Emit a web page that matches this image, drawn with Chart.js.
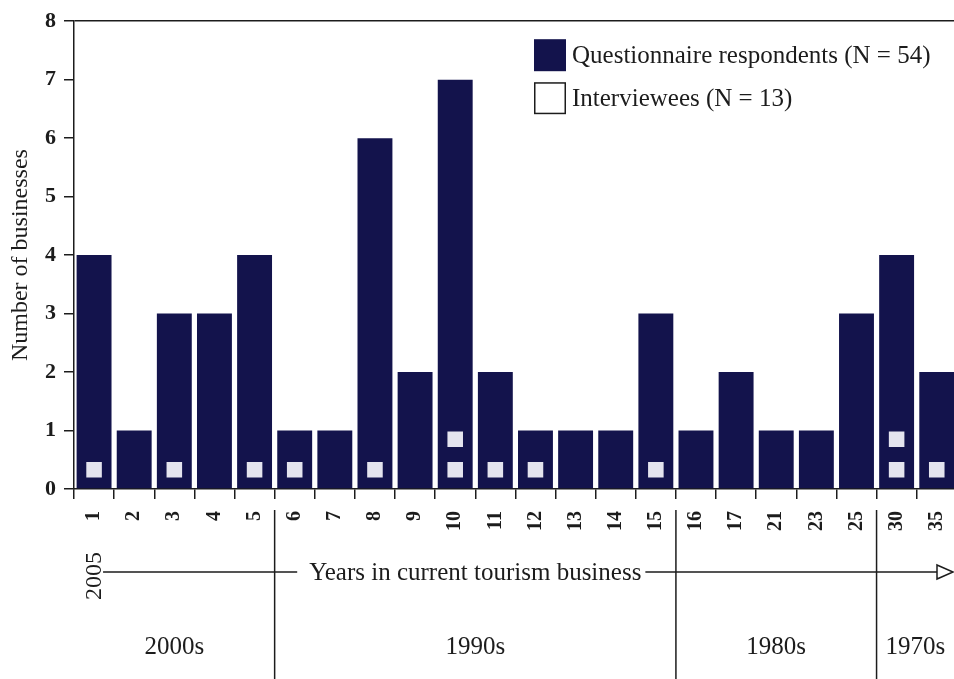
<!DOCTYPE html>
<html>
<head>
<meta charset="utf-8">
<title>Years in current tourism business</title>
<script src="https://cdn.jsdelivr.net/npm/chart.js@4.4.0/dist/chart.umd.min.js"></script>
<style>
  html, body { margin: 0; padding: 0; background: #fff; overflow: hidden; }
  #wrap { position: relative; width: 954px; height: 679px; overflow: hidden; }
</style>
</head>
<body>
<!-- the plot runs a little past the right edge of the page, as in the original scan -->
<div id="wrap"><canvas id="chart" width="973" height="679"></canvas></div>
<script>
// --- Data ---
const years = ['1','2','3','4','5','6','7','8','9','10','11','12','13','14','15','16','17','21','23','25','30','35'];
const respondents = [4,1,3,3,4,1,1,6,2,7,2,1,1,1,3,1,2,1,1,3,4,2];
const interviewees = [1,0,1,0,1,1,0,1,0,2,1,1,0,0,1,0,0,0,0,0,2,1];
const yTicks = [0,1,2,3,4,5,6,7,8];
const decades = ['2000s','1990s','1980s','1970s'];
const decadeLastYear = ['5','15','25','35'];
const startYear = '2005';
const xTitle = 'Years in current tourism business';
const seriesLabels = ['Questionnaire respondents (N = 54)', 'Interviewees (N = 13)'];

// --- Style ---
const SERIF = '"Liberation Serif", "Times New Roman", serif';
const INK = '#1c1c1c';
const NAVY = '#13134c';
const MARK = '#e4e4ee';
const VIEW_W = 954;
// interviewee squares are stacked inside the bar, one per person
const MARK_BASE = 0.33, MARK_STEP = 0.52;

const markerPoints = [];
interviewees.forEach((n, i) => {
  for (let k = 0; k < n; k++) markerPoints.push({ x: years[i], y: MARK_BASE + k * MARK_STEP });
});

// legend drawn inside the plot, top right
const boxLegend = {
  id: 'boxLegend',
  afterDraw(chart) {
    const { ctx, chartArea } = chart;
    const x = chartArea.left + 460, y0 = chartArea.top + 18, size = 32, gap = 43;
    ctx.save();
    ctx.font = '25px ' + SERIF;
    ctx.textBaseline = 'middle';
    seriesLabels.forEach((label, i) => {
      const y = y0 + i * gap;
      if (i === 0) {
        ctx.fillStyle = NAVY;
        ctx.fillRect(x, y, size, size);
      } else {
        ctx.fillStyle = '#fff';
        ctx.fillRect(x, y, size, size);
        ctx.strokeStyle = INK;
        ctx.lineWidth = 1.5;
        ctx.strokeRect(x + 0.75, y + 0.75, size - 1.5, size - 1.5);
      }
      ctx.fillStyle = INK;
      ctx.fillText(label, x + size + 6, y + size / 2 + 1);
    });
    ctx.restore();
  }
};

// arrow, start year, decade separators and decade names under the axis
const decadeBand = {
  id: 'decadeBand',
  afterDraw(chart) {
    const { ctx, chartArea } = chart;
    const xs = chart.scales.x;
    const half = (xs.getPixelForValue(1) - xs.getPixelForValue(0)) / 2;
    const H = chart.height;
    const arrowY = chartArea.bottom + 83;
    const labelY = chartArea.bottom + 158;
    const right = Math.min(chartArea.right, VIEW_W);

    ctx.save();
    ctx.strokeStyle = INK;
    ctx.fillStyle = INK;
    ctx.lineWidth = 1.5;

    // separators between decades
    const bounds = [chartArea.left];
    decadeLastYear.forEach((yr, i) => {
      const px = xs.getPixelForValue(years.indexOf(yr)) + half;
      if (i < decadeLastYear.length - 1) {
        bounds.push(px);
        ctx.beginPath();
        ctx.moveTo(px, chartArea.bottom + 21);
        ctx.lineTo(px, H);
        ctx.stroke();
      }
    });
    bounds.push(right);

    // decade names
    ctx.font = '25px ' + SERIF;
    ctx.textAlign = 'center';
    ctx.textBaseline = 'middle';
    decades.forEach((d, i) => {
      ctx.fillText(d, (bounds[i] + bounds[i + 1]) / 2, labelY);
    });

    // arrow with title
    const titleCx = (bounds[1] + bounds[2]) / 2;
    const tw = ctx.measureText(xTitle).width;
    ctx.fillText(xTitle, titleCx, arrowY + 1);
    const startX = xs.getPixelForValue(0) + 9;
    const tipX = VIEW_W - 1;
    const headX = tipX - 16;
    ctx.beginPath();
    ctx.moveTo(startX, arrowY);
    ctx.lineTo(titleCx - tw / 2 - 12, arrowY);
    ctx.moveTo(titleCx + tw / 2 + 4, arrowY);
    ctx.lineTo(headX, arrowY);
    ctx.stroke();
    ctx.beginPath();
    ctx.moveTo(headX, arrowY - 7);
    ctx.lineTo(tipX, arrowY);
    ctx.lineTo(headX, arrowY + 7);
    ctx.closePath();
    ctx.fillStyle = '#fff';
    ctx.fill();
    ctx.stroke();

    // start year, rotated
    ctx.fillStyle = INK;
    ctx.font = '24px ' + SERIF;
    ctx.translate(xs.getPixelForValue(0) + 1, arrowY + 4);
    ctx.rotate(-Math.PI / 2);
    ctx.fillText(startYear, 0, 0);
    ctx.restore();
  }
};

new Chart(document.getElementById('chart'), {
  type: 'bar',
  data: {
    labels: years,
    datasets: [
      {
        label: seriesLabels[1],
        type: 'line',
        data: markerPoints,
        showLine: false,
        pointStyle: 'rect',
        pointRadius: 11,
        pointHoverRadius: 11,
        pointBorderWidth: 0,
        pointBackgroundColor: MARK,
        order: 0
      },
      {
        label: seriesLabels[0],
        data: respondents,
        backgroundColor: NAVY,
        barPercentage: 0.87,
        categoryPercentage: 1,
        order: 1
      }
    ]
  },
  options: {
    responsive: false,
    animation: false,
    devicePixelRatio: 1,
    layout: { padding: { top: 17, right: 0, left: 0, bottom: 0 } },
    plugins: {
      legend: { display: false },
      tooltip: { enabled: false }
    },
    scales: {
      x: {
        offset: true,
        grid: { offset: true, drawOnChartArea: false, tickLength: 10, tickColor: INK, lineWidth: 1.5 },
        border: { color: INK, width: 1.5 },
        ticks: {
          autoSkip: false, minRotation: 90, maxRotation: 90, padding: 12,
          color: INK, font: { family: SERIF, size: 20, weight: 'bold' }
        },
        afterFit: s => { s.height = 190; }
      },
      y: {
        min: yTicks[0],
        max: yTicks[yTicks.length - 1],
        afterBuildTicks: s => { s.ticks = yTicks.map(v => ({ value: v })); },
        grid: {
          color: c => (c.tick && c.tick.value === 8 ? INK : 'rgba(0,0,0,0)'),
          tickColor: INK, tickLength: 10, lineWidth: 1.5
        },
        border: { color: INK, width: 1.5 },
        ticks: { padding: 8, color: INK, font: { family: SERIF, size: 22, weight: 'bold' } },
        title: {
          display: true, text: 'Number of businesses', color: INK,
          font: { family: SERIF, size: 24 }, padding: { top: 6, bottom: 0 }
        },
        afterFit: s => { s.width = 74; }
      }
    }
  },
  plugins: [boxLegend, decadeBand]
});
</script>
</body>
</html>
